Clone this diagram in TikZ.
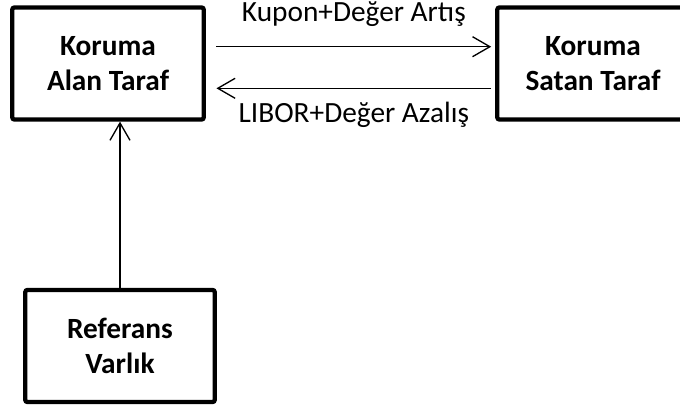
\documentclass[tikz,border=0pt]{standalone}
\usepackage{fontspec}
\setmainfont{Carlito}
\usepackage{tikz}
\usetikzlibrary{arrows.meta}
\usetikzlibrary{positioning}
\tikzset{party/.style = {draw, line width = 3.2pt, rounded corners = 1.5pt, align = center, font = \fontsize{22}{26}\selectfont\bfseries, minimum width = 143.5pt, minimum height = 84pt, inner sep = 0}}
\tikzset{flow/.style = {line width = 1pt, -{Straight Barb[length = 13pt, width = 15pt, line width = 1pt]}}}
\tikzset{flowlabel/.style = {font = \fontsize{22}{26}\selectfont, anchor = base, inner sep = 0}}

\begin{document}
\begin{tikzpicture}[x = 0.75pt, y = -0.75pt]
    \useasboundingbox (0, 0) rectangle (680, 407);

    \node [party] (alan) at (108, 63.5) {Koruma\\Alan Taraf};
    \node [party] (satan) at (593, 63.5) {Koruma\\Satan Taraf};
    \node [party, minimum width = 142pt] (varlik) at (120, 346) {Referans\\Varlık};

    \draw [flow] ([xshift = 8pt, yshift = 12.6pt] alan.east) -- node [flowlabel, yshift = 18.8pt] (artis) {Kupon+Değer Artış} ([xshift = -3pt, yshift = 12.6pt] satan.west);
    \draw [flow] ([xshift = -3pt, yshift = -18.6pt] satan.west) -- node [flowlabel, yshift = -25.5pt] (azalis) {LIBOR+Değer Azalış} ([xshift = 8pt, yshift = -18.6pt] alan.east);
    \draw [flow] (varlik.north) -- (varlik.north |- alan.south);
  \end{tikzpicture}
\end{document}
